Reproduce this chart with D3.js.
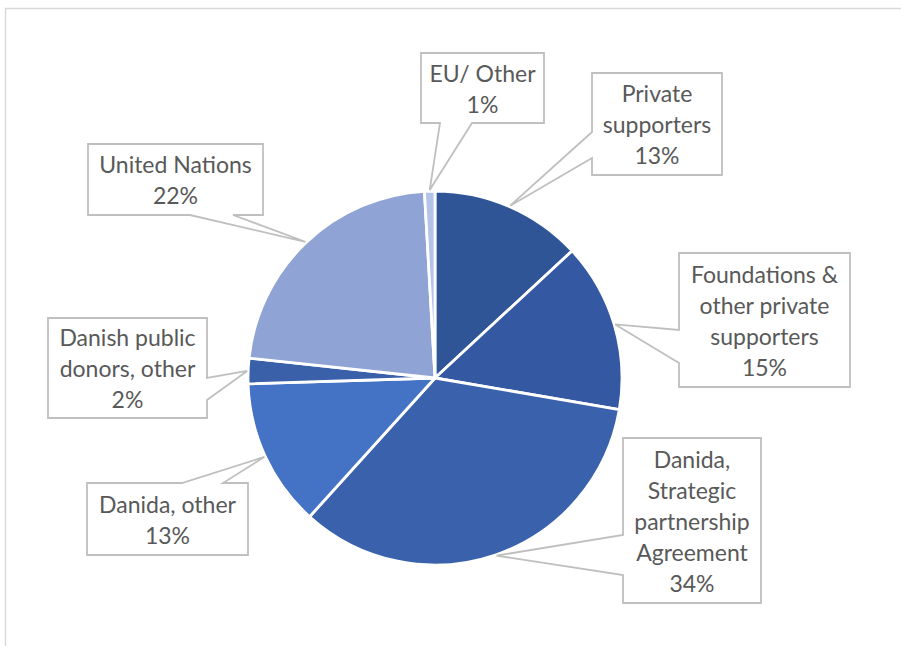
<!DOCTYPE html>
<html>
<head>
<meta charset="utf-8">
<script src="https://cdn.jsdelivr.net/npm/d3@7"></script>
<style>
  html, body { margin: 0; padding: 0; background: #fff; }
  svg { display: block; }
</style>
</head>
<body>
<svg id="chart" width="901" height="646"></svg>
<script>
// ---- Data ----
const categories = [
  "Private supporters",
  "Foundations & other private supporters",
  "Danida, Strategic partnership Agreement",
  "Danida, other",
  "Danish public donors, other",
  "United Nations",
  "EU/ Other"
];
const values = [13.1, 14.6, 34.0, 12.8, 2.2, 22.4, 0.9];
const labelLines = [
  ["Private", "supporters"],
  ["Foundations &", "other private", "supporters"],
  ["Danida,", "Strategic", "partnership", "Agreement"],
  ["Danida, other"],
  ["Danish public", "donors, other"],
  ["United Nations"],
  ["EU/ Other"]
];

// ---- Styles ----
const palette = ["#2F5597", "#3459A2", "#3A62AC", "#4472C4", "#3A60AA", "#8FA4D5", "#B4C4E7"];

// ---- Layout (callout boxes) ----
const layout = [
  { x: 592, y: 73,  w: 130, h: 102, side: "left",   a: 132, b: 158 },
  { x: 679, y: 253, w: 171, h: 134, side: "left",   a: 330, b: 363 },
  { x: 623, y: 438, w: 138, h: 165, side: "left",   a: 535, b: 575 },
  { x: 87,  y: 483, w: 161, h: 72,  side: "top",    a: 182, b: 223 },
  { x: 48,  y: 318, w: 159, h: 100, side: "right",  a: 378, b: 400 },
  { x: 88,  y: 144, w: 175, h: 71,  side: "bottom", a: 190, b: 233 },
  { x: 421, y: 53,  w: 123, h: 70,  side: "bottom", a: 440, b: 472 }
];

const svg = d3.select("#chart");
const cx = 435, cy = 378, R = 187;

// chart area border
svg.append("rect")
  .attr("x", 5.5).attr("y", 8.5)
  .attr("width", 1000).attr("height", 1000)
  .attr("fill", "none").attr("stroke", "#D9D9D9").attr("stroke-width", 1.5);

const data = categories.map((c, i) => ({ name: c, value: values[i], lines: labelLines[i], i }));
const pie = d3.pie().sort(null).value(d => d.value);
const arcs = pie(data);
const arc = d3.arc().innerRadius(0).outerRadius(R);

const g = svg.append("g").attr("transform", `translate(${cx},${cy})`);
g.selectAll("path.slice")
  .data(arcs)
  .join("path")
  .attr("class", "slice")
  .attr("d", arc)
  .attr("fill", d => palette[d.data.i])
  .attr("stroke", "#fff")
  .attr("stroke-width", 2.8)
  .attr("stroke-linejoin", "round");

const fmt = d3.format(".0f");

function calloutPath(L, tx, ty) {
  const x0 = L.x, y0 = L.y, x1 = L.x + L.w, y1 = L.y + L.h;
  const p = [];
  p.push([x0, y0]);
  if (L.side === "top") { p.push([L.a, y0], [tx, ty], [L.b, y0]); }
  p.push([x1, y0]);
  if (L.side === "right") { p.push([x1, L.a], [tx, ty], [x1, L.b]); }
  p.push([x1, y1]);
  if (L.side === "bottom") { p.push([L.b, y1], [tx, ty], [L.a, y1]); }
  p.push([x0, y1]);
  if (L.side === "left") { p.push([x0, L.b], [tx, ty], [x0, L.a]); }
  return "M" + p.map(q => q.join(",")).join("L") + "Z";
}

const labels = svg.append("g");
arcs.forEach(d => {
  const L = layout[d.data.i];
  const mid = (d.startAngle + d.endAngle) / 2;
  const tx = cx + Math.sin(mid) * (R + 1);
  const ty = cy - Math.cos(mid) * (R + 1);
  labels.append("path")
    .attr("d", calloutPath(L, tx, ty))
    .attr("fill", "#fff")
    .attr("stroke", "#BFBFBF")
    .attr("stroke-width", 1.8)
    .attr("stroke-linejoin", "miter");
  const lines = d.data.lines.concat([fmt(d.data.value) + "%"]);
  const n = lines.length;
  const lh = 31;
  const mx = L.x + L.w / 2, my = L.y + L.h / 2 + 1;
  const t = labels.append("text")
    .attr("text-anchor", "middle")
    .attr("font-family", "Lato, 'Open Sans', sans-serif")
    .attr("font-size", 23)
    .attr("fill", "#595959");
  lines.forEach((s, k) => {
    t.append("tspan")
      .attr("x", mx)
      .attr("y", my + (k - (n - 1) / 2) * lh)
      .attr("dy", "0.35em")
      .text(s);
  });
});
</script>
</body>
</html>
